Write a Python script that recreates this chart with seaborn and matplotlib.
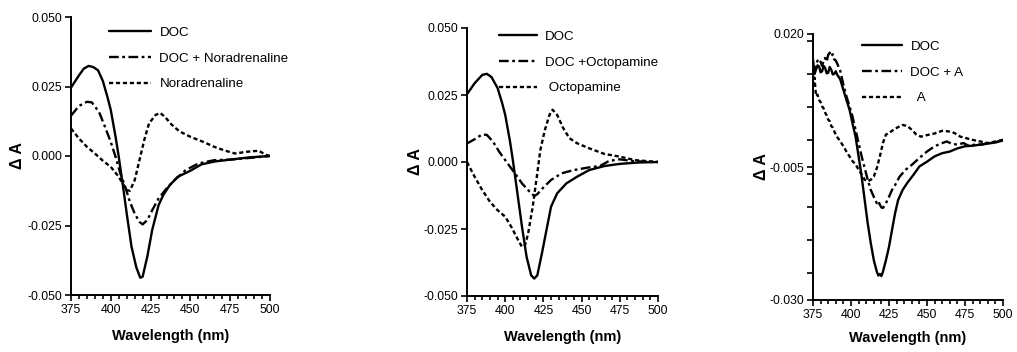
import matplotlib
matplotlib.use("Agg")
import matplotlib.pyplot as plt
import seaborn as sns
import numpy as np
import pandas as pd
from matplotlib.ticker import MultipleLocator

# ---------------- Panel 1: Noradrenaline ----------------
p1_doc_x = [375, 380, 383, 386, 389, 392, 395, 398, 400, 403, 405, 408, 410, 413, 416, 418.5, 420, 423, 426, 430, 433, 437, 442, 450, 457, 465, 475, 487, 500]
p1_doc_y = [0.0246, 0.029, 0.0314, 0.0324, 0.032, 0.0308, 0.027, 0.021, 0.0165, 0.0069, -0.0003, -0.0123, -0.0207, -0.0326, -0.040, -0.0438, -0.0434, -0.036, -0.0266, -0.0177, -0.014, -0.0105, -0.0075, -0.0053, -0.003, -0.002, -0.0013, -0.0005, 0.0]

p1_mix_x = [375, 380, 385, 388, 390, 393, 396, 398, 400, 403, 406, 409, 412, 415, 418, 420, 423, 426, 430, 435, 440, 447, 455, 465, 475, 487, 500]
p1_mix_y = [0.0145, 0.018, 0.0195, 0.0193, 0.0179, 0.0153, 0.011, 0.008, 0.005, -0.0003, -0.0063, -0.011, -0.0165, -0.0207, -0.0237, -0.0246, -0.023, -0.0195, -0.0153, -0.0117, -0.0087, -0.0051, -0.0027, -0.0015, -0.0013, -0.0007, 0.0]

p1_drug_x = [375, 380, 385, 390, 395, 400, 405, 410, 412, 415, 418, 421, 424, 428, 431, 434, 438, 443, 450, 458, 465, 472, 478, 485, 493, 497, 500]
p1_drug_y = [0.0099, 0.0063, 0.0033, 0.0009, -0.0017, -0.0039, -0.0075, -0.0123, -0.0125, -0.0087, -0.0015, 0.0057, 0.0117, 0.0147, 0.0155, 0.0141, 0.0114, 0.0089, 0.0069, 0.0051, 0.0033, 0.0019, 0.0009, 0.0015, 0.0019, 0.0005, 0.0]

# ---------------- Panel 2: Octopamine ----------------
p2_doc_x = [375, 380, 385, 388, 391, 395, 398, 400, 403, 405, 408, 411, 414, 417, 419, 421, 424, 427, 430, 434, 440, 447, 455, 465, 475, 487, 500]
p2_doc_y = [0.0253, 0.0294, 0.0325, 0.0329, 0.0317, 0.0276, 0.022, 0.0176, 0.0082, 0.0007, -0.0117, -0.0242, -0.0354, -0.0423, -0.0435, -0.0423, -0.0342, -0.0254, -0.0167, -0.0117, -0.008, -0.0055, -0.003, -0.0015, -0.0007, -0.0002, 0.0]

p2_mix_x = [375, 380, 385, 388, 392, 396, 400, 404, 408, 411, 415, 419, 421, 425, 430, 437, 445, 455, 462, 468, 475, 483, 492, 500]
p2_mix_y = [0.0069, 0.0085, 0.0103, 0.0101, 0.0076, 0.0039, 0.0007, -0.0024, -0.0055, -0.008, -0.0105, -0.0127, -0.012, -0.0095, -0.0067, -0.0042, -0.003, -0.002, -0.0015, 0.0004, 0.001, 0.0004, 0.0001, 0.0]

p2_drug_x = [375, 380, 385, 390, 395, 400, 404, 408, 411, 413, 415, 418, 421, 423, 426, 429, 431, 434, 438, 442, 447, 455, 465, 475, 485, 500]
p2_drug_y = [0.0, -0.0055, -0.0105, -0.0148, -0.018, -0.0204, -0.0242, -0.0286, -0.0317, -0.031, -0.0267, -0.0167, -0.0042, 0.0045, 0.012, 0.0176, 0.0195, 0.0176, 0.0126, 0.0089, 0.007, 0.0051, 0.003, 0.002, 0.0007, 0.0]

# ---------------- Panel 3: A ----------------
p3_doc_x = [375, 376, 377, 378, 379, 380, 381, 382, 383, 384, 385, 386, 387, 388, 389, 390, 391, 392, 393, 395, 397, 399, 401, 403, 405, 407, 409, 411, 413, 415, 417, 418, 419, 420, 421, 423, 425, 427, 429, 431, 434, 437, 441, 445, 450, 455, 460, 465, 470, 475, 480, 485, 490, 495, 500]
p3_doc_y = [0.0152, 0.0125, 0.0133, 0.0141, 0.0139, 0.0128, 0.0130, 0.0140, 0.0136, 0.0126, 0.0127, 0.0138, 0.0133, 0.0124, 0.0125, 0.0130, 0.0123, 0.0119, 0.0114, 0.0095, 0.0076, 0.0058, 0.0032, 0.0007, -0.0030, -0.0068, -0.0112, -0.0156, -0.0193, -0.0225, -0.0247, -0.0254, -0.0251, -0.0255, -0.0247, -0.0225, -0.0200, -0.0168, -0.0137, -0.0112, -0.0093, -0.0080, -0.0065, -0.0049, -0.0040, -0.0030, -0.0024, -0.0021, -0.0015, -0.0011, -0.0010, -0.0008, -0.0006, -0.0004, 0.0]

p3_mix_x = [375, 376, 377, 378, 379, 380, 381, 382, 383, 384, 385, 386, 387, 388, 389, 390, 391, 393, 395, 397, 399, 401, 403, 405, 407, 409, 411, 413, 415, 417, 418, 419, 420, 421, 423, 425, 427, 429, 432, 436, 440, 445, 450, 455, 460, 463, 466, 470, 474, 478, 482, 486, 490, 495, 500]
p3_mix_y = [0.0133, 0.0128, 0.0142, 0.0150, 0.0145, 0.0148, 0.0140, 0.0150, 0.0155, 0.0148, 0.0161, 0.0165, 0.0158, 0.0162, 0.0152, 0.0150, 0.0144, 0.0130, 0.0105, 0.0083, 0.0064, 0.0045, 0.0020, -0.0005, -0.0030, -0.0052, -0.0074, -0.0093, -0.0106, -0.0118, -0.0114, -0.0121, -0.0126, -0.0127, -0.0118, -0.0106, -0.0093, -0.0084, -0.0068, -0.0055, -0.0046, -0.0033, -0.0021, -0.0011, -0.0005, -0.0002, -0.0006, -0.0008, -0.0005, -0.0011, -0.0007, -0.0008, -0.0005, -0.0003, 0.0001]

p3_drug_x = [375, 376, 377, 378, 379, 380, 381, 382, 383, 384, 385, 386, 387, 388, 389, 390, 391, 393, 395, 397, 399, 401, 403, 405, 407, 409, 411, 413, 415, 417, 419, 421, 423, 425, 428, 431, 434, 437, 440, 443, 446, 450, 455, 460, 464, 468, 472, 476, 480, 485, 490, 495, 500]
p3_drug_y = [0.0102, 0.0118, 0.0083, 0.0086, 0.0076, 0.0072, 0.0064, 0.0060, 0.0052, 0.0047, 0.0039, 0.0036, 0.0027, 0.0024, 0.0017, 0.0011, 0.0006, -0.0002, -0.0011, -0.0021, -0.0030, -0.0039, -0.0045, -0.0055, -0.0064, -0.0074, -0.0077, -0.0074, -0.0068, -0.0052, -0.0030, -0.0005, 0.0011, 0.0014, 0.0020, 0.0025, 0.0029, 0.0027, 0.0020, 0.0011, 0.0007, 0.0010, 0.0013, 0.0018, 0.0017, 0.0014, 0.0007, 0.0004, 0.0001, -0.0002, -0.0005, -0.0002, 0.0001]

panel_labels = [
    ["DOC", "DOC + Noradrenaline", "Noradrenaline"],
    ["DOC", "DOC +Octopamine", " Octopamine"],
    ["DOC", "DOC + A", "  A"],
]
x_ticks = [375, 400, 425, 450, 475, 500]
y_ticks_12 = [0.050, 0.025, 0.000, -0.025, -0.050]
y_ticks_3 = [0.020, -0.005, -0.030]

sns.set_style("ticks")
plt.rcParams['font.family'] = ['Liberation Sans', 'DejaVu Sans']
plt.rcParams['lines.scale_dashes'] = False
for key in ['text.color', 'axes.labelcolor', 'xtick.color', 'ytick.color', 'axes.edgecolor']:
    plt.rcParams[key] = 'black'

fig = plt.figure(figsize=(10.17, 3.52), dpi=100)
W, H = 1017, 352
boxes = [(71, 17, 270, 295), (467, 28, 658, 296), (813, 34, 1003, 300)]
axes = [fig.add_axes([l / W, 1 - b / H, (r - l) / W, (b - t) / H]) for (l, t, r, b) in boxes]

data = [
    [(p1_doc_x, p1_doc_y), (p1_mix_x, p1_mix_y), (p1_drug_x, p1_drug_y)],
    [(p2_doc_x, p2_doc_y), (p2_mix_x, p2_mix_y), (p2_drug_x, p2_drug_y)],
    [(p3_doc_x, p3_doc_y), (p3_mix_x, p3_mix_y), (p3_drug_x, p3_drug_y)],
]
styles = ["-", (0, (7, 2.5, 2, 2.5)), (0, (3, 2))]
legend_pos = [(0.19, 0.965), (0.17, 0.99), (0.26, 0.975)]
handle_len = [3.2, 2.8, 3.0]
ylabel_pad = [1.5, 0.5, 0.5]
xlabel_pad = [9, 9, 7]

for i, ax in enumerate(axes):
    for j, (xs, ys) in enumerate(data[i]):
        df = pd.DataFrame({"x": xs, "y": ys})
        sns.lineplot(data=df, x="x", y="y", ax=ax, color="black", linewidth=1.7,
                     linestyle=styles[j], label=panel_labels[i][j], sort=False)
    ax.set_xlim(375, 500)
    ax.set_xticks(x_ticks)
    ax.xaxis.set_minor_locator(MultipleLocator(5))
    if i < 2:
        ax.set_ylim(-0.050, 0.050)
        ax.set_yticks(y_ticks_12)
        ax.set_yticklabels([f"{v:.3f}" for v in y_ticks_12])
    else:
        ax.set_ylim(-0.030, 0.020)
        ax.set_yticks(y_ticks_3)
        ax.set_yticklabels([f"{v:.3f}" for v in y_ticks_3])
        ax.yaxis.set_minor_locator(MultipleLocator(0.00625))
        ax.tick_params(axis="y", which="minor", length=4, width=1.2, color="black")
    ax.tick_params(axis="both", which="major", length=4, width=1.2, labelsize=8.8, pad=2.5,
                   color="black", labelcolor="black")
    ax.tick_params(axis="x", which="minor", length=3, width=1.2, color="black")
    for s in ["left", "bottom"]:
        ax.spines[s].set_linewidth(1.4)
        ax.spines[s].set_color("black")
    sns.despine(ax=ax)
    ax.set_xlabel("Wavelength (nm)", fontsize=10.5, fontweight="bold", labelpad=xlabel_pad[i], color="black")
    ax.set_ylabel("Δ A", fontsize=11.5, fontweight="bold", labelpad=ylabel_pad[i], color="black")
    ax.set_facecolor("white")
    leg = ax.legend(loc="upper left", bbox_to_anchor=legend_pos[i], frameon=False,
                    fontsize=9.6, handlelength=handle_len[i], handletextpad=0.6, labelspacing=1.0,
                    borderpad=0, borderaxespad=0, labelcolor="black")
    for line in leg.get_lines():
        line.set_linewidth(1.7)

fig.savefig("out.png", dpi=100, facecolor="white")
